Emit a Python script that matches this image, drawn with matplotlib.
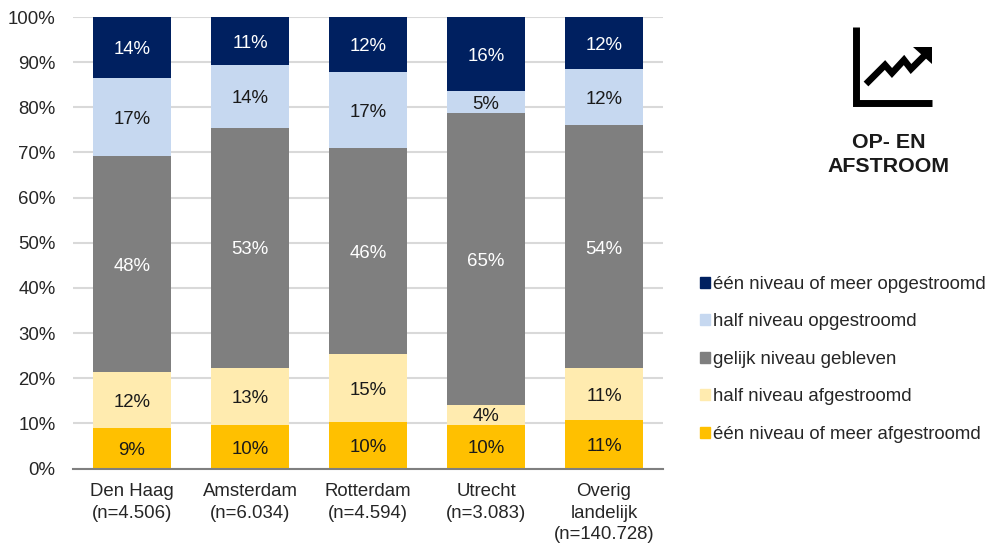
import numpy as np
import matplotlib
matplotlib.use('Agg')
import matplotlib.pyplot as plt
from matplotlib.patches import Patch

plt.rcParams['font.family'] = ['Liberation Sans', 'DejaVu Sans']

W = 989
H = 547
FS = 13.4

# data
steden = ['Den Haag\n(n=4.506)', 'Amsterdam\n(n=6.034)', 'Rotterdam\n(n=4.594)', 'Utrecht\n(n=3.083)',
          'Overig\nlandelijk\n(n=140.728)']
een_af = [9.0, 9.6, 10.3, 9.7, 10.8]
half_af = [12.4, 12.7, 15.1, 4.4, 11.4]
gelijk = [47.8, 53.2, 45.6, 64.6, 53.8]
half_op = [17.3, 13.8, 16.8, 5.0, 12.4]
een_op = [13.5, 10.7, 12.2, 16.3, 11.6]

namen = ['één niveau of meer afgestroomd', 'half niveau afgestroomd', 'gelijk niveau gebleven',
         'half niveau opgestroomd', 'één niveau of meer opgestroomd']
kleuren = ['#FFC000', '#FFEBAF', '#7F7F7F', '#C6D8F0', '#002060']
tekstkleur = ['#1a1a1a', '#1a1a1a', 'white', '#1a1a1a', 'white']
series = [een_af, half_af, gelijk, half_op, een_op]

fig = plt.figure(figsize=(W / 100, H / 100), dpi=100)
ax = fig.add_axes([73 / W, 1 - 468.5 / H, 590 / W, 451.5 / H])

x = np.arange(len(steden))
onder = np.zeros(len(steden))
for s, naam, k, tk in zip(series, namen, kleuren, tekstkleur):
    s = np.array(s)
    ax.bar(x, s, 0.665, bottom=onder, color=k, label=naam, zorder=3)
    for xi, b, v in zip(x, onder, s):
        ax.annotate('%d%%' % round(v + 1e-6), (xi, b + v / 2), xytext=(0, -1.6), textcoords='offset points',
                    ha='center', va='center', fontsize=FS, color=tk, zorder=4)
    onder += s

ax.set_xlim(-0.5, 4.5)
ax.set_ylim(0, 100)
ax.set_yticks(np.arange(0, 101, 10))
ax.set_yticklabels(['%d%%' % t for t in range(0, 101, 10)], fontsize=FS, color='#262626')
ax.set_xticks(x)
ax.set_xticklabels(steden, fontsize=FS, color='#262626', linespacing=1.36)
ax.tick_params(length=0)
ax.tick_params(axis='x', pad=10.5)
ax.tick_params(axis='y', pad=12.5)
ax.grid(axis='y', color='#D9D9D9', lw=1.5, zorder=0)
ax.set_axisbelow(True)
for kant in ['top', 'right', 'left']:
    ax.spines[kant].set_visible(False)
ax.spines['bottom'].set_color('#7F7F7F')
ax.spines['bottom'].set_linewidth(1.5)
ax.spines['bottom'].set_zorder(5)

# legenda, zelfde volgorde als in het plaatje (boven naar beneden)
handles = [Patch(color=k, label=n) for k, n in zip(kleuren, namen)][::-1]
leg = fig.legend(handles=handles, loc='upper left', bbox_to_anchor=(700 / W, 1 - 276 / H), frameon=False,
                 fontsize=FS, labelspacing=1.1, handlelength=0.54, handleheight=0.54, handletextpad=0.16,
                 borderpad=0, borderaxespad=0, labelcolor='#262626')

# icoon in pixelcoordinaten
ic = fig.add_axes([0, 0, 1, 1])
ic.set_xlim(0, W)
ic.set_ylim(H, 0)
ic.axis('off')
ic.patch.set_alpha(0)
ic.plot([855.5, 855.5, 932], [27, 103, 103], color='black', lw=5, solid_joinstyle='miter', solid_capstyle='butt')
ic.plot([866, 885, 892, 904, 911, 925], [84, 65, 73, 60, 69, 55], color='black', lw=4.8,
        solid_joinstyle='miter', solid_capstyle='butt')
ic.fill([913, 932, 932], [47, 47, 64], color='black', lw=0)
ic.text(888.5, 143, 'OP- EN', ha='center', va='center', fontsize=15.4, fontweight='bold', color='#1a1a1a')
ic.text(888.5, 167, 'AFSTROOM', ha='center', va='center', fontsize=15.4, fontweight='bold', color='#1a1a1a')

fig.savefig('out.png', dpi=100)
